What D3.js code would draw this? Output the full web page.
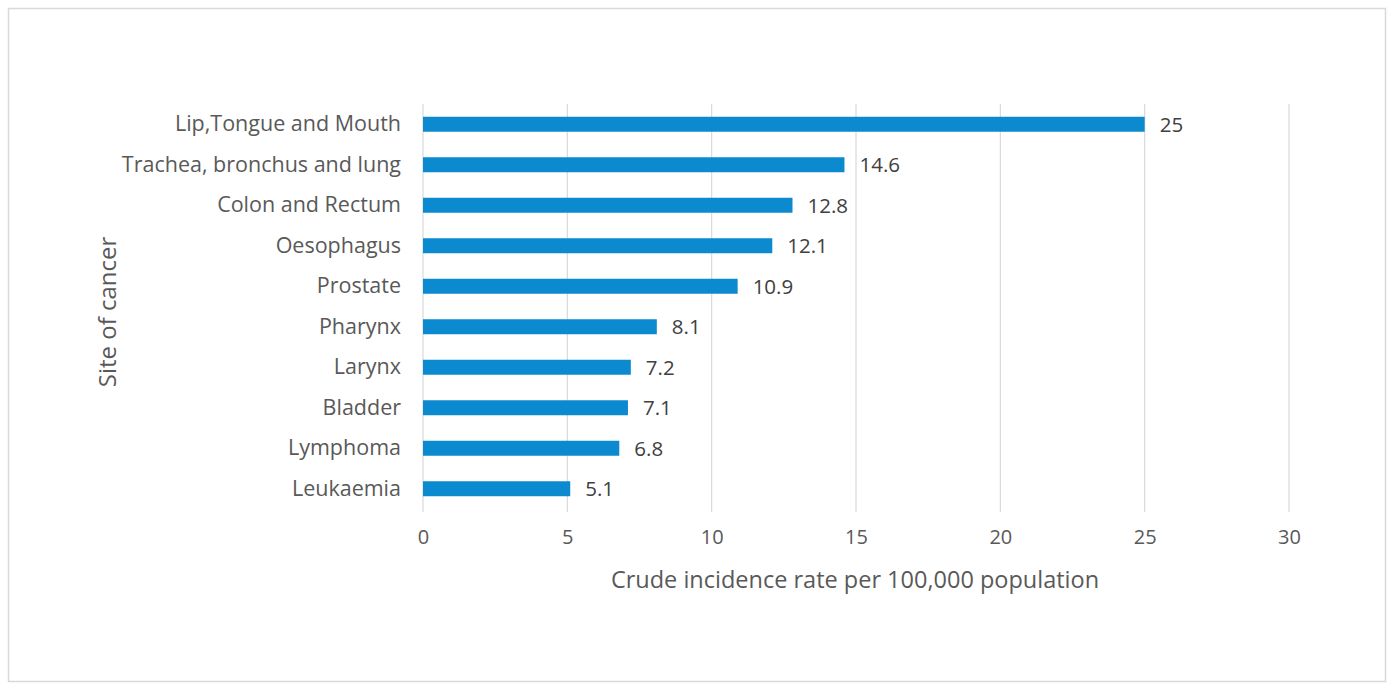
<!DOCTYPE html>
<html><head><meta charset="utf-8">
<script src="https://cdn.jsdelivr.net/npm/d3@7"></script>
<style>html,body{margin:0;padding:0;background:#fff;}svg{display:block;}</style>
</head><body>
<svg id="c" width="1391" height="686"></svg>
<script>
const categories = ["Lip,Tongue and Mouth","Trachea, bronchus and lung","Colon and Rectum","Oesophagus","Prostate","Pharynx","Larynx","Bladder","Lymphoma","Leukaemia"];
const values = [25,14.6,12.8,12.1,10.9,8.1,7.2,7.1,6.8,5.1];
const xTicks = [0,5,10,15,20,25,30];
const xTitle = "Crude incidence rate per 100,000 population";
const yTitle = "Site of cancer";

const svg = d3.select("#c");
const font = "'Open Sans', sans-serif";
const txt = "#595959";

svg.append("rect").attr("x",8.5).attr("y",8.5).attr("width",1377).attr("height",673)
  .attr("fill","#fff").attr("stroke","#d9d9d9").attr("stroke-width",1.5);

const x = d3.scaleLinear().domain([0,30]).range([423,1289]);
const y = d3.scaleBand().domain(categories).range([104,509]).paddingInner(0.63).paddingOuter(0.315);

const g = svg.append("g");
g.selectAll("line.grid").data(xTicks).join("line").attr("class","grid")
  .attr("x1",d=>x(d)).attr("x2",d=>x(d)).attr("y1",104).attr("y2",512)
  .attr("stroke","#d9d9d9").attr("stroke-width",1.2);

g.selectAll("rect.bar").data(values).join("rect").attr("class","bar")
  .attr("x",x(0)).attr("y",(d,i)=>y(categories[i]))
  .attr("width",d=>x(d)-x(0)).attr("height",y.bandwidth())
  .attr("fill","#0c8ad0");

g.selectAll("text.val").data(values).join("text").attr("class","val")
  .attr("x",d=>x(d)+15).attr("y",(d,i)=>y(categories[i])+y.bandwidth()/2)
  .attr("dy","0.36em").attr("font-family",font).attr("font-size",20.5).attr("fill","#404040")
  .text(d=>d);

const xa = d3.axisBottom(x).tickValues(xTicks).tickSize(0).tickPadding(0).tickFormat(d3.format("d"));
const xg = svg.append("g").attr("transform","translate(0,530)").call(xa);
xg.select(".domain").remove();
xg.selectAll("text").attr("font-family",font).attr("font-size",20).attr("fill",txt).attr("dy","0.71em");

const ya = d3.axisLeft(y).tickSize(0).tickPadding(22);
const yg = svg.append("g").attr("transform","translate(423,0)").call(ya);
yg.select(".domain").remove();
yg.selectAll("text").attr("font-family",font).attr("font-size",21.5).attr("fill",txt);

svg.append("text").attr("x",855).attr("y",580).attr("dy","0.35em").attr("text-anchor","middle")
  .attr("font-family",font).attr("font-size",23.5).attr("fill",txt).text(xTitle);
svg.append("text").attr("transform","translate(108,312) rotate(-90)").attr("dy","0.35em").attr("text-anchor","middle")
  .attr("font-family",font).attr("font-size",24).attr("fill",txt).text(yTitle);
</script>
</body></html>
